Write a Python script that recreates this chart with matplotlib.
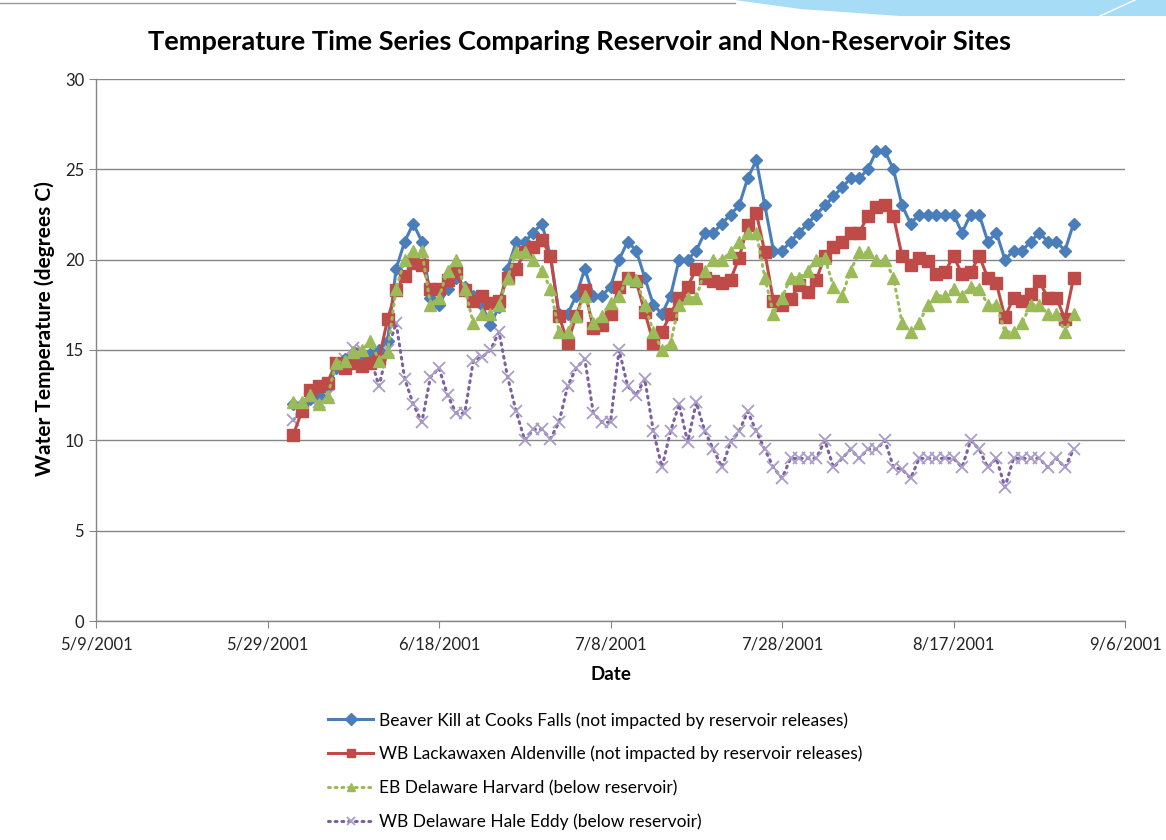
import numpy as np
import pandas as pd
import matplotlib
matplotlib.use('Agg')
import matplotlib.pyplot as plt
from matplotlib.patches import Polygon
from matplotlib.lines import Line2D

# daily readings, 6/1/2001 .. 8/31/2001
start_date = '2001-06-01'

beaver_kill = [12.0, 12.0, 12.3, 12.5, 13.0, 14.0, 14.5, 14.5, 14.5, 14.8,
               15.0, 15.5, 19.5, 21.0, 22.0, 21.0, 17.9, 17.5, 18.4, 19.0,
               18.5, 18.0, 17.5, 16.4, 17.4, 19.5, 21.0, 21.0, 21.5, 22.0,
               20.2, 17.0, 17.0, 18.0, 19.5, 18.0, 18.0, 18.5, 20.0, 21.0,
               20.5, 19.0, 17.5, 17.0, 18.0, 20.0, 20.0, 20.5, 21.5, 21.5,
               22.0, 22.5, 23.0, 24.5, 25.5, 23.0, 20.5, 20.5, 21.0, 21.5,
               22.0, 22.5, 23.0, 23.5, 24.0, 24.5, 24.5, 25.0, 26.0, 26.0,
               25.0, 23.0, 22.0, 22.5, 22.5, 22.5, 22.5, 22.5, 21.5, 22.5,
               22.5, 21.0, 21.5, 20.0, 20.5, 20.5, 21.0, 21.5, 21.0, 21.0,
               20.5, 22.0]

lackawaxen = [10.3, 11.6, 12.8, 13.0, 13.2, 14.3, 14.0, 14.3, 14.1, 14.3,
              14.5, 16.7, 18.3, 19.1, 19.8, 19.7, 18.4, 18.4, 18.9, 19.3,
              18.3, 17.7, 18.0, 17.6, 17.7, 19.0, 19.5, 20.4, 20.7, 21.1,
              20.2, 16.9, 15.4, 16.9, 18.3, 16.2, 16.4, 17.0, 18.5, 19.0,
              18.8, 17.1, 15.4, 16.0, 17.0, 17.9, 18.5, 19.5, 19.0, 18.8,
              18.7, 18.9, 20.1, 21.9, 22.6, 20.4, 17.7, 17.5, 17.8, 18.6,
              18.2, 18.9, 20.2, 20.7, 21.0, 21.5, 21.5, 22.4, 22.9, 23.0,
              22.4, 20.2, 19.7, 20.1, 19.9, 19.2, 19.3, 20.2, 19.2, 19.3,
              20.2, 19.0, 18.7, 16.8, 17.9, 17.7, 18.1, 18.8, 17.9, 17.9,
              16.7, 19.0]

eb_harvard = [12.1, 12.1, 12.5, 12.0, 12.4, 14.3, 14.4, 14.9, 15.0, 15.5,
              14.4, 14.9, 18.4, 20.0, 20.5, 20.5, 17.5, 17.9, 19.4, 20.0,
              18.4, 16.5, 17.0, 17.0, 17.5, 19.0, 20.4, 20.4, 20.0, 19.4,
              18.4, 16.0, 16.0, 16.9, 18.0, 16.5, 16.9, 17.6, 18.0, 19.0,
              18.9, 17.5, 16.0, 15.0, 15.4, 17.5, 17.9, 17.9, 19.4, 20.0,
              20.0, 20.4, 21.0, 21.5, 21.5, 19.0, 17.0, 17.9, 19.0, 19.0,
              19.4, 20.0, 20.1, 18.5, 18.0, 19.4, 20.4, 20.4, 20.0, 20.0,
              19.0, 16.5, 16.0, 16.5, 17.5, 18.0, 18.0, 18.4, 18.0, 18.5,
              18.4, 17.5, 17.5, 16.0, 16.0, 16.5, 17.5, 17.5, 17.0, 17.0,
              16.0, 17.0]

wb_hale_eddy = [11.1, 11.8, 12.3, 12.1, 12.5, 14.3, 14.5, 15.1, 15.0, 14.6,
                13.0, 15.0, 16.5, 13.4, 12.0, 11.0, 13.5, 14.0, 12.5, 11.5,
                11.5, 14.4, 14.6, 15.0, 16.0, 13.5, 11.6, 10.0, 10.6, 10.6,
                10.1, 11.0, 13.0, 14.0, 14.5, 11.5, 11.0, 11.0, 15.0, 13.0,
                12.5, 13.4, 10.5, 8.5, 10.5, 12.0, 9.9, 12.1, 10.5, 9.5,
                8.5, 9.9, 10.5, 11.6, 10.5, 9.5, 8.5, 7.9, 9.0, 9.0,
                9.0, 9.0, 10.0, 8.5, 9.0, 9.5, 9.0, 9.5, 9.5, 10.0,
                8.5, 8.4, 7.9, 9.0, 9.0, 9.0, 9.0, 9.0, 8.5, 10.0,
                9.5, 8.5, 9.0, 7.4, 9.0, 9.0, 9.0, 9.0, 8.5, 9.0,
                8.5, 9.5]

labels = ['Beaver Kill at Cooks Falls (not impacted by reservoir releases)',
          'WB Lackawaxen Aldenville (not impacted by reservoir releases)',
          'EB Delaware Harvard (below reservoir)',
          'WB Delaware Hale Eddy (below reservoir)']

dates = pd.date_range(start_date, periods=len(beaver_kill), freq='D')

plt.rcParams['font.family'] = ['Lato', 'DejaVu Sans']

fig = plt.figure(figsize=(11.66, 8.4), dpi=100)
ax = fig.add_axes([96 / 1166, 1 - 621 / 840, 1029 / 1166, 542 / 840])

dot = (0, (0.6, 1.6))
ax.plot(dates, beaver_kill, color='#4a7ebb', lw=2.2, marker='D', ms=6.5,
        mfc='#4a7ebb', mec='#4a7ebb', label=labels[0], zorder=4)
ax.plot(dates, lackawaxen, color='#be4b48', lw=2.2, marker='s', ms=9,
        mfc='#be4b48', mec='#be4b48', label=labels[1], zorder=5)
ax.plot(dates, eb_harvard, color='#9bbb59', lw=2.2, ls=dot, dash_capstyle='round',
        marker='^', ms=9, mfc='#9bbb59', mec='#9bbb59', label=labels[2], zorder=6)
ax.plot(dates, wb_hale_eddy, color='#7d60a0', lw=2.2, ls=dot, dash_capstyle='round',
        marker='x', ms=8.5, mew=1.3, mec='#a99cc9', label=labels[3], zorder=3)

# axes, grid
ax.set_ylim(0, 30)
ax.set_yticks(np.arange(0, 31, 5))
x0 = pd.Timestamp('2001-05-09')
ax.set_xlim(x0, pd.Timestamp('2001-09-06'))
xt = pd.date_range(x0, periods=7, freq='20D')
ax.set_xticks(xt)
ax.set_xticklabels([f'{d.month}/{d.day}/{d.year}' for d in xt])
ax.yaxis.grid(True, color='#868686', lw=1.0)
ax.set_axisbelow(True)
for s in ['top', 'right']:
    ax.spines[s].set_visible(False)
for s in ['left', 'bottom']:
    ax.spines[s].set_color('#868686')
    ax.spines[s].set_linewidth(1.0)
ax.tick_params(axis='both', direction='out', length=5, color='#868686',
               labelsize=12, labelcolor='#222222')
ax.tick_params(axis='x', pad=6)

ax.set_xlabel('Date', fontsize=13.5, fontweight='bold')
ax.xaxis.set_label_coords(0.5, -(674 - 621) / 542, transform=ax.transAxes)
ax.set_ylabel('Water Temperature (degrees C)', fontsize=15, fontweight='bold')
ax.yaxis.set_label_coords(-(96 - 45) / 1029, (621 - 329) / 542)
ax.yaxis.label.set_va('center')
ax.xaxis.label.set_va('center')
fig.text(580 / 1166, 1 - 42 / 840,
         'Temperature Time Series Comparing Reservoir and Non-Reservoir Sites',
         ha='center', va='center', fontsize=19.5, fontweight='bold')

leg = fig.legend(loc='upper left', bbox_to_anchor=(328 / 1166, 1 - 712 / 840),
                 frameon=False, fontsize=12.5, handlelength=2.6, handletextpad=0.35,
                 labelspacing=1.0, borderpad=0, borderaxespad=0)
for h in leg.legend_handles:
    h.set_markersize(6)

# slide decoration at the top
fig.add_artist(Line2D([0, 735 / 1166], [1 - 3 / 840, 1 - 3 / 840],
                      color='#9a9a9a', lw=1, transform=fig.transFigure))
fig.add_artist(Polygon([(735 / 1166, 1), (1, 1), (1, 1 - 16 / 840),
                        (900 / 1166, 1 - 16 / 840), (800 / 1166, 1 - 9 / 840)],
                       closed=True, fc='#a6dcf6', ec='none',
                       transform=fig.transFigure))
fig.add_artist(Line2D([1100 / 1166, 1135 / 1166], [1 - 16 / 840, 1],
                      color='white', lw=1, transform=fig.transFigure))

fig.savefig('out.png', dpi=100)
